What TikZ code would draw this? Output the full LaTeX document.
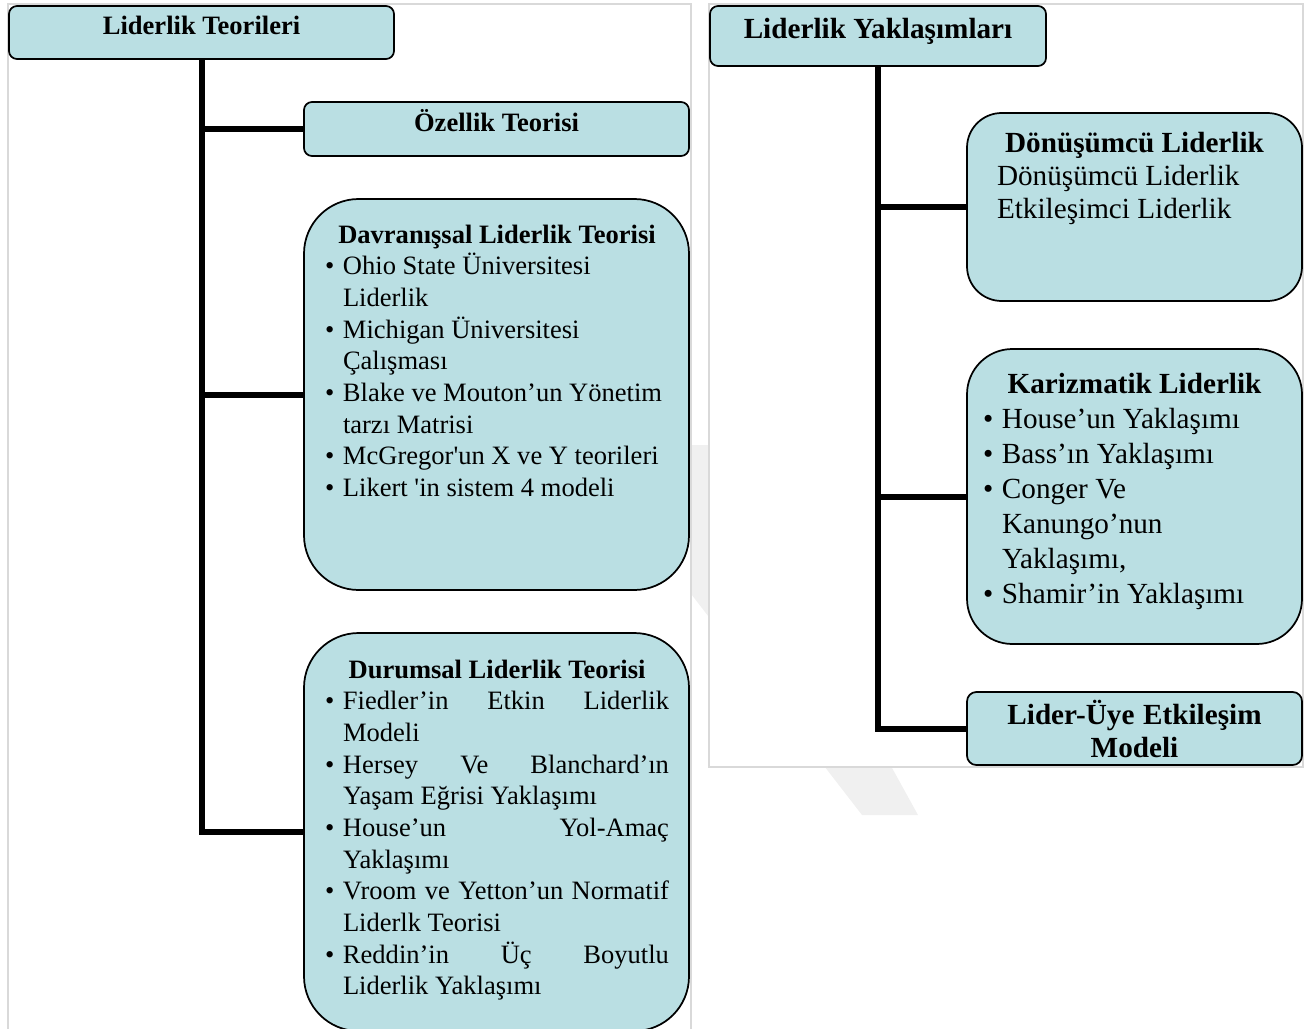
\documentclass[tikz,border=0pt]{standalone}
\usepackage{fontspec}
\setmainfont{Liberation Serif}
\definecolor{boxfill}{RGB}{186,223,227}
\definecolor{framegray}{RGB}{217,217,217}
\definecolor{wmark}{RGB}{240,240,240}
\newcommand{\lbul}{\makebox[13.5pt][l]{\textbullet}}
\newcommand{\lindt}{\hspace*{13.5pt}}
\newcommand{\rbul}{\makebox[14.25pt][l]{\textbullet}}
\newcommand{\rindt}{\hspace*{14.25pt}}
\newcommand{\natsp}{\spaceskip=0pt\xspaceskip=0pt\relax}
\tikzset{
  box/.style={draw=black, line width=1.3pt, fill=boxfill, anchor=north west, inner sep=0pt, outer sep=0pt},
  conn/.style={draw=black, line width=4.5pt},
  lfont/.style={font=\fontsize{19.9pt}{23.75pt}\selectfont},
  rfont/.style={font=\fontsize{21.9pt}{24.75pt}\selectfont},
  kfont/.style={font=\fontsize{21.9pt}{26.25pt}\selectfont},
  txt/.style={anchor=base west, inner sep=0pt, outer sep=0pt, align=left},
  ctxt/.style={anchor=base, inner sep=0pt, outer sep=0pt},
  frame/.style={draw=framegray, line width=1.2pt, fill=white},
}
\begin{document}
\begin{tikzpicture}[x=0.75pt,y=-0.75pt]
\useasboundingbox (0,0) rectangle (1309,1028);
% watermark band
\fill[wmark] (688,445) -- (714,445) -- (918,815) -- (862,815) -- (688,590) -- cycle;
% panel frames
\draw[frame] (8,4) rectangle (691,1045);
\draw[frame] (709,4) rectangle (1303,767);

% left boxes
\node[box, rounded corners=6pt, minimum width={385*0.75pt}, minimum height={53*0.75pt}] (B1) at (9,6) {};
\node[box, rounded corners=6pt, minimum width={385*0.75pt}, minimum height={54*0.75pt}] (B2) at (304,102) {};
\node[box, rounded corners=41pt, minimum width={385*0.75pt}, minimum height={391*0.75pt}] (B3) at (304,199) {};
\node[box, rounded corners=41pt, minimum width={385*0.75pt}, minimum height={398*0.75pt}] (B4) at (304,633) {};
% right boxes
\node[box, rounded corners=6pt, minimum width={336*0.75pt}, minimum height={60*0.75pt}] (B5) at (710,6) {};
\node[box, rounded corners=26pt, minimum width={335*0.75pt}, minimum height={188*0.75pt}] (B6) at (967,113) {};
\node[box, rounded corners=34pt, minimum width={335*0.75pt}, minimum height={295*0.75pt}] (B7) at (967,349) {};
\node[box, rounded corners=7pt, minimum width={335*0.75pt}, minimum height={73*0.75pt}] (B8) at (967,692) {};

% connectors
\draw[conn] (B1.south) |- (B4.west);
\draw[conn] (B1.south |- B2.west) -- (B2.west);
\draw[conn] (B1.south |- B3.west) -- (B3.west);
\draw[conn] (B5.south) |- (B8.west);
\draw[conn] (B5.south |- B6.west) -- (B6.west);
\draw[conn] (B5.south |- B7.west) -- (B7.west);

% texts
\node[ctxt, lfont] (T1) at (201.5,34) {\textbf{Liderlik Teorileri}};
\node[ctxt, lfont] (T2) at (496.5,131) {\textbf{Özellik Teorisi}};
\node[txt, lfont, text width=258pt] (T3) at (325,243) {\natsp
\makebox[\linewidth]{\bfseries Davranışsal Liderlik Teorisi}\\
\lbul Ohio State Üniversitesi\\
\lindt Liderlik\\
\lbul Michigan Üniversitesi\\
\lindt Çalışması\\
\lbul Blake ve Mouton’un Yönetim\\
\lindt tarzı Matrisi\\
\lbul McGregor\textquotesingle un X ve Y teorileri\\
\lbul Likert \textquotesingle in sistem 4 modeli};
\node[txt, lfont, text width=258pt] (T4) at (325,678) {\natsp
\makebox[\linewidth]{\bfseries Durumsal Liderlik Teorisi}\\
\lbul\makebox[244.5pt][s]{Fiedler’in Etkin Liderlik}\\
\lindt Modeli\\
\lbul\makebox[244.5pt][s]{Hersey Ve Blanchard’ın}\\
\lindt Yaşam Eğrisi Yaklaşımı\\
\lbul\makebox[244.5pt][s]{House’un Yol-Amaç}\\
\lindt Yaklaşımı\\
\lbul\makebox[244.5pt][s]{Vroom ve Yetton’un Normatif}\\
\lindt Liderlk Teorisi\\
\lbul\makebox[244.5pt][s]{Reddin’in Üç Boyutlu}\\
\lindt Liderlik Yaklaşımı};
\node[ctxt, rfont] (T5) at (878,38) {\textbf{Liderlik Yaklaşımları}};
\node[txt, rfont, text width=206.25pt] (T6) at (997,152) {\natsp
\makebox[\linewidth]{\bfseries Dönüşümcü Liderlik}\\
Dönüşümcü Liderlik\\
Etkileşimci Liderlik};
\node[txt, kfont, text width=227.25pt] (T7) at (983,393) {\natsp
\makebox[\linewidth]{\bfseries Karizmatik Liderlik}\\
\rbul House’un Yaklaşımı\\
\rbul Bass’ın Yaklaşımı\\
\rbul Conger Ve\\
\rindt Kanungo’nun\\
\rindt Yaklaşımı,\\
\rbul Shamir’in Yaklaşımı};
\node[ctxt, rfont, text width=225pt, align=center] (T8) at (1134.5,724) {\natsp\textbf{Lider-Üye Etkileşim}\\\textbf{Modeli}};
\end{tikzpicture}
\end{document}
